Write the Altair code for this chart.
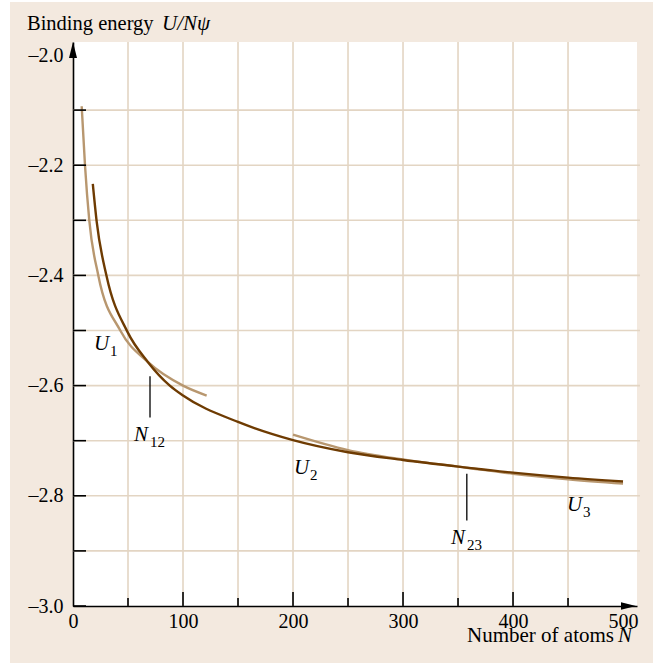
import altair as alt
import pandas as pd

# Binding energy per atom for three structural regimes, sampled along each curve
n_u1 = [7.9, 10.9, 14.8, 23.0, 43.0, 68.0, 100.0, 121.5]
u_u1 = [-2.093, -2.200, -2.300, -2.400, -2.500, -2.557, -2.600, -2.618]

n_u2 = [18.0, 21.5, 30.6, 49.4, 68.0, 88.0, 100.0, 150.0, 200.0, 250.0, 300.0, 350.0, 400.0, 450.0, 500.0]
u_u2 = [-2.234, -2.302, -2.402, -2.502, -2.557, -2.600, -2.618, -2.666, -2.699, -2.721, -2.735, -2.747, -2.758, -2.767, -2.774]

n_u3 = [200.0, 250.0, 300.0, 358.0, 400.0, 450.0, 500.0]
u_u3 = [-2.689, -2.717, -2.734, -2.749, -2.760, -2.770, -2.778]

# Crossover markers N12 and N23
cross_n = [70.0, 358.0]
cross_top = [-2.583, -2.760]
cross_bot = [-2.658, -2.845]

# Curve / crossover labels
label_main = ["U", "N", "U", "N", "U"]
label_sub = ["1", "12", "2", "23", "3"]
label_n = [19.1, 55.5, 200.9, 343.6, 449.0]
label_u = [-2.536, -2.700, -2.760, -2.887, -2.828]

# Axis ticks and grid
x_labels = [0, 100, 200, 300, 400, 500]
y_labels = [-3.0, -2.8, -2.6, -2.4, -2.2, -2.0]
x_major = [100, 200, 300, 400]
x_minor = [50, 150, 250, 350, 450]
x_grid = [50, 100, 150, 200, 250, 300, 350, 400, 450]
y_grid = [-2.9, -2.8, -2.7, -2.6, -2.5, -2.4, -2.3, -2.2, -2.1]
y_ticks = [-3.0] + y_grid

W, H = 564, 564
XMAX = 512.7
YMIN, YMAX = -3.0, -1.9764

SERIF = "Liberation Serif"
BG = "#f3e9df"
GRID = "#e3d5c3"
LIGHT = "#b8976f"
DARK = "#6e3b02"

xs = alt.Scale(domain=[0, XMAX], nice=False, zero=False)
ys = alt.Scale(domain=[YMIN, YMAX], nice=False, zero=False)


def X(field="n", **kw):
    return alt.X(f"{field}:Q", scale=xs, title=None, **kw)


def Y(field="u", **kw):
    return alt.Y(f"{field}:Q", scale=ys, title=None, **kw)


one = alt.Data(values=[{"k": 1}])

# white page margins around the beige panel
margins = [
    alt.Chart(one).mark_rect(color="white").encode(
        x=alt.value(x0), x2=alt.value(x1), y=alt.value(y0), y2=alt.value(y1))
    for (x0, x1, y0, y1) in [(-73, -63, -42, 622), (580, 584, -42, 622),
                             (-73, 584, -42, -40), (-73, 584, 621, 622)]
]

vgrid = alt.Chart(pd.DataFrame({"n": x_grid})).mark_rule(
    color=GRID, strokeWidth=1.6).encode(x=X(), y=alt.value(0), y2=alt.value(H))
hgrid = alt.Chart(pd.DataFrame({"u": y_grid})).mark_rule(
    color=GRID, strokeWidth=1.6).encode(y=Y(), x=alt.value(0), x2=alt.value(W + 3))

# axes: labels and black domain lines only; ticks are drawn inward below
axes = alt.Chart(pd.DataFrame({"n": [0.0], "u": [-3.0]})).mark_point(opacity=0).encode(
    x=X(axis=alt.Axis(values=x_labels, ticks=False, tickSize=0, grid=False,
                      domainColor="black", domainWidth=1.6, labelPadding=5,
                      labelFont=SERIF, labelFontSize=20, labelColor="black",
                      labelOverlap=False, labelFlush=False)),
    y=Y(axis=alt.Axis(values=y_labels, ticks=False, tickSize=0, grid=False,
                      domainColor="black", domainWidth=1.6, labelPadding=10,
                      labelFont=SERIF, labelFontSize=20, labelColor="black",
                      labelOverlap=False, labelFlush=False,
                      labelExpr="'\u2013' + format(abs(datum.value), '.1f')")),
)

tick_major = alt.Chart(pd.DataFrame({"n": x_major})).mark_rule(
    color="black", strokeWidth=1.6).encode(x=X(), y=alt.value(H), y2=alt.value(H - 14))
tick_minor = alt.Chart(pd.DataFrame({"n": x_minor})).mark_rule(
    color="black", strokeWidth=1.6).encode(x=X(), y=alt.value(H), y2=alt.value(H - 8))
tick_y = alt.Chart(pd.DataFrame({"u": y_ticks})).mark_rule(
    color="black", strokeWidth=1.6).encode(y=Y(), x=alt.value(0), x2=alt.value(13))

arrow_y = alt.Chart(one).mark_point(
    shape="M0,-1L0.5,1L-0.5,1Z", filled=True, color="black", opacity=1, size=256
).encode(x=alt.value(0), y=alt.value(8))
arrow_x = alt.Chart(one).mark_point(
    shape="M1,0L-1,-0.5L-1,0.5Z", filled=True, color="black", opacity=1, size=225
).encode(x=alt.value(555.5), y=alt.value(H))

u1 = alt.Chart(pd.DataFrame({"n": n_u1, "u": u_u1})).mark_line(
    color=LIGHT, strokeWidth=2.4, interpolate="monotone").encode(x=X(), y=Y())
u3 = alt.Chart(pd.DataFrame({"n": n_u3, "u": u_u3})).mark_line(
    color=LIGHT, strokeWidth=2.4, interpolate="monotone").encode(x=X(), y=Y())
u2 = alt.Chart(pd.DataFrame({"n": n_u2, "u": u_u2})).mark_line(
    color=DARK, strokeWidth=2.4, interpolate="monotone").encode(x=X(), y=Y())

cross = alt.Chart(pd.DataFrame({"n": cross_n, "u": cross_top, "u2": cross_bot})).mark_rule(
    color="black", strokeWidth=1.3).encode(x=X(), y=Y(), y2="u2:Q")

labels = pd.DataFrame({"n": label_n, "u": label_u, "main": label_main, "sub": label_sub})
lab_main = alt.Chart(labels).mark_text(
    font=SERIF, fontSize=21, fontStyle="italic", align="left", baseline="alphabetic",
    color="black").encode(x=X(), y=Y(), text="main:N")
lab_sub = alt.Chart(labels).mark_text(
    font=SERIF, fontSize=15, align="left", baseline="alphabetic", dx=16, dy=6,
    color="black").encode(x=X(), y=Y(), text="sub:N")

# axis captions
title_a = alt.Chart(one).mark_text(
    text="Binding energy", font=SERIF, fontSize=20.5, align="left",
    baseline="alphabetic", color="black").encode(x=alt.value(-46), y=alt.value(-12))
title_b = alt.Chart(one).mark_text(
    text="U/N\u03c8", font=SERIF, fontSize=21, fontStyle="italic", align="left",
    baseline="alphabetic", color="black").encode(x=alt.value(89), y=alt.value(-12))
xcap_a = alt.Chart(one).mark_text(
    text="Number of atoms", font=SERIF, fontSize=21, align="right",
    baseline="alphabetic", color="black").encode(x=alt.value(541), y=alt.value(600))
xcap_b = alt.Chart(one).mark_text(
    text="N", font=SERIF, fontSize=21, fontStyle="italic", align="left",
    baseline="alphabetic", color="black").encode(x=alt.value(545), y=alt.value(600))

chart = alt.layer(
    *margins, vgrid, hgrid, axes, u1, u3, u2, cross, tick_major, tick_minor, tick_y,
    arrow_y, arrow_x, lab_main, lab_sub, title_a, title_b, xcap_a, xcap_b,
).properties(
    width=W, height=H,
    autosize=alt.AutoSizeParams(type="none"),
    padding={"left": 73, "top": 42, "right": 20, "bottom": 58},
    background=BG,
).configure_view(fill="white", strokeWidth=0)

chart.save("out.html", embed_options={"renderer": "svg", "actions": False})
